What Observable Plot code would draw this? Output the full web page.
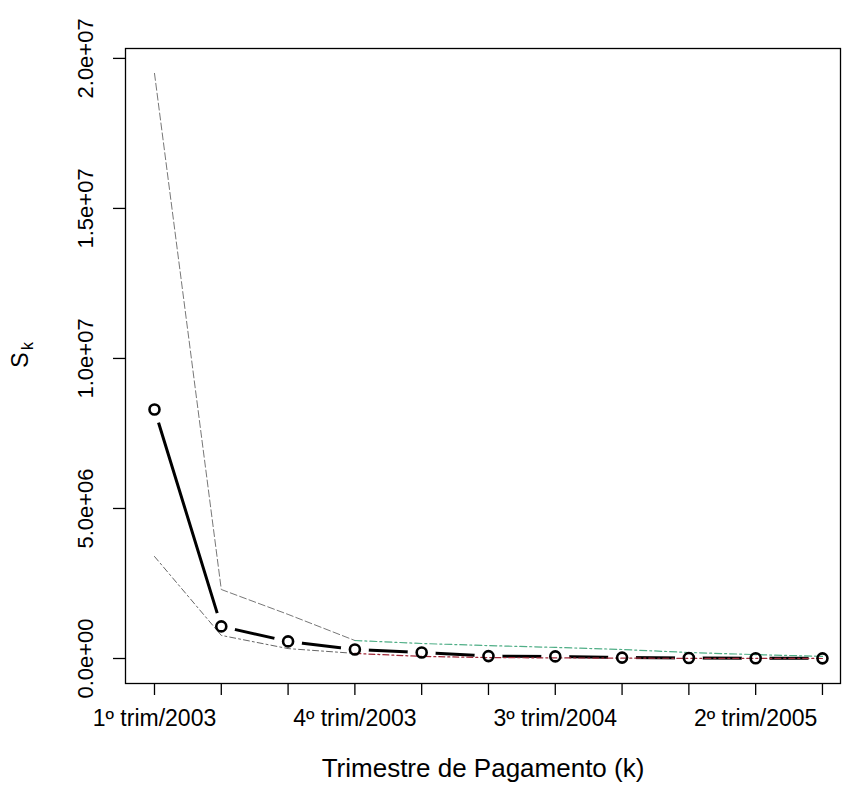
<!DOCTYPE html>
<html>
<head>
<meta charset="utf-8">
<script src="https://cdn.jsdelivr.net/npm/d3@7"></script>
<script src="https://cdn.jsdelivr.net/npm/@observablehq/plot@0.6"></script>
<style>
  html, body { margin: 0; padding: 0; background: white; }
</style>
</head>
<body>
<script>
// Categories (payment quarters)
const quarters = ["1º trim/2003","2º trim/2003","3º trim/2003","4º trim/2003",
                  "1º trim/2004","2º trim/2004","3º trim/2004","4º trim/2004",
                  "1º trim/2005","2º trim/2005","3º trim/2005"];
const kIndex = [1,2,3,4,5,6,7,8,9,10,11];
// Estimated S_k (central) and band limits
const central = [8.3e6, 1.07e6, 5.7e5, 3.0e5, 2.0e5, 8e4, 7e4, 3e4, 1.5e4, 8e3, 5e3];
const upper   = [1.95e7, 2.3e6, 1.47e6, 6.0e5, 5.0e5, 4.3e5, 3.7e5, 3.0e5, 2.0e5, 1.3e5, 7e4];
const lower   = [3.4e6, 7.7e5, 3.3e5, 1.7e5, 7e4, 3e4, 2e4, 1.2e4, 6e3, 3e3, 1e3];
const yTicks  = [0, 5e6, 1e7, 1.5e7, 2e7];
const xLabelEvery = 3;

const data = kIndex.map((k, i) => ({k, central: central[i], upper: upper[i], lower: lower[i]}));

function fmtE(v) {
  const [m, e] = v.toExponential(1).split("e");
  return m + "e" + e[0] + e.slice(1).padStart(2, "0");
}

const chart = Plot.plot({
  width: 843,
  height: 805,
  marginLeft: 125,
  marginRight: 3,
  marginTop: 48,
  marginBottom: 122,
  style: {fontFamily: "'Liberation Sans', Arial, sans-serif", fontSize: "23px", background: "white", color: "black"},
  x: {type: "linear", domain: [0.566, 11.27]},
  y: {domain: [-8.33e5, 2.033e7]},
  marks: [
    Plot.axisY({ticks: yTicks, tickSize: 12, tickFormat: () => "", label: null, strokeWidth: 1.3}),
    Plot.text(yTicks, {y: d => d, frameAnchor: "left", dx: -40, rotate: -90, textAnchor: "middle", text: fmtE, fontSize: 22, fill: "black"}),
    Plot.axisX({ticks: kIndex, tickSize: 12, tickPadding: 14, strokeWidth: 1.3, label: null, fontSize: 23,
                tickFormat: k => (k - 1) % xLabelEvery === 0 ? quarters[k - 1] : ""}),
    Plot.line(data, {x: "k", y: "central", stroke: "black", strokeWidth: 3}),
    Plot.dot(data, {x: "k", y: "central", r: 14, fill: "white", stroke: null}),
    Plot.line(data.slice(0, 4), {x: "k", y: "upper", stroke: "#777", strokeWidth: 1, strokeDasharray: "7,3"}),
    Plot.line(data.slice(3), {x: "k", y: "upper", stroke: "#4fae86", strokeWidth: 1.2, strokeDasharray: "7,3,2,3"}),
    Plot.line(data.slice(0, 4), {x: "k", y: "lower", stroke: "#666", strokeWidth: 1, strokeDasharray: "6,3,2,3"}),
    Plot.line(data.slice(3), {x: "k", y: "lower", stroke: "#a02838", strokeWidth: 1.2, strokeDasharray: "6,3,2,3"}),
    Plot.dot(data, {x: "k", y: "central", r: 5, stroke: "black", strokeWidth: 2.6, fill: "none"}),
    Plot.frame({stroke: "black", strokeWidth: 1.3}),
    Plot.text(["Trimestre de Pagamento (k)"], {frameAnchor: "bottom", dy: 93, fontSize: 26, fill: "black"}),
    Plot.text(["S"], {frameAnchor: "left", dx: -105, dy: -6, rotate: -90, textAnchor: "middle", fontSize: 23, fill: "black"}),
    Plot.text(["k"], {frameAnchor: "left", dx: -98, dy: -20, rotate: -90, textAnchor: "middle", fontSize: 16, fill: "black"})
  ]
});
document.body.append(chart);
</script>
</body>
</html>
